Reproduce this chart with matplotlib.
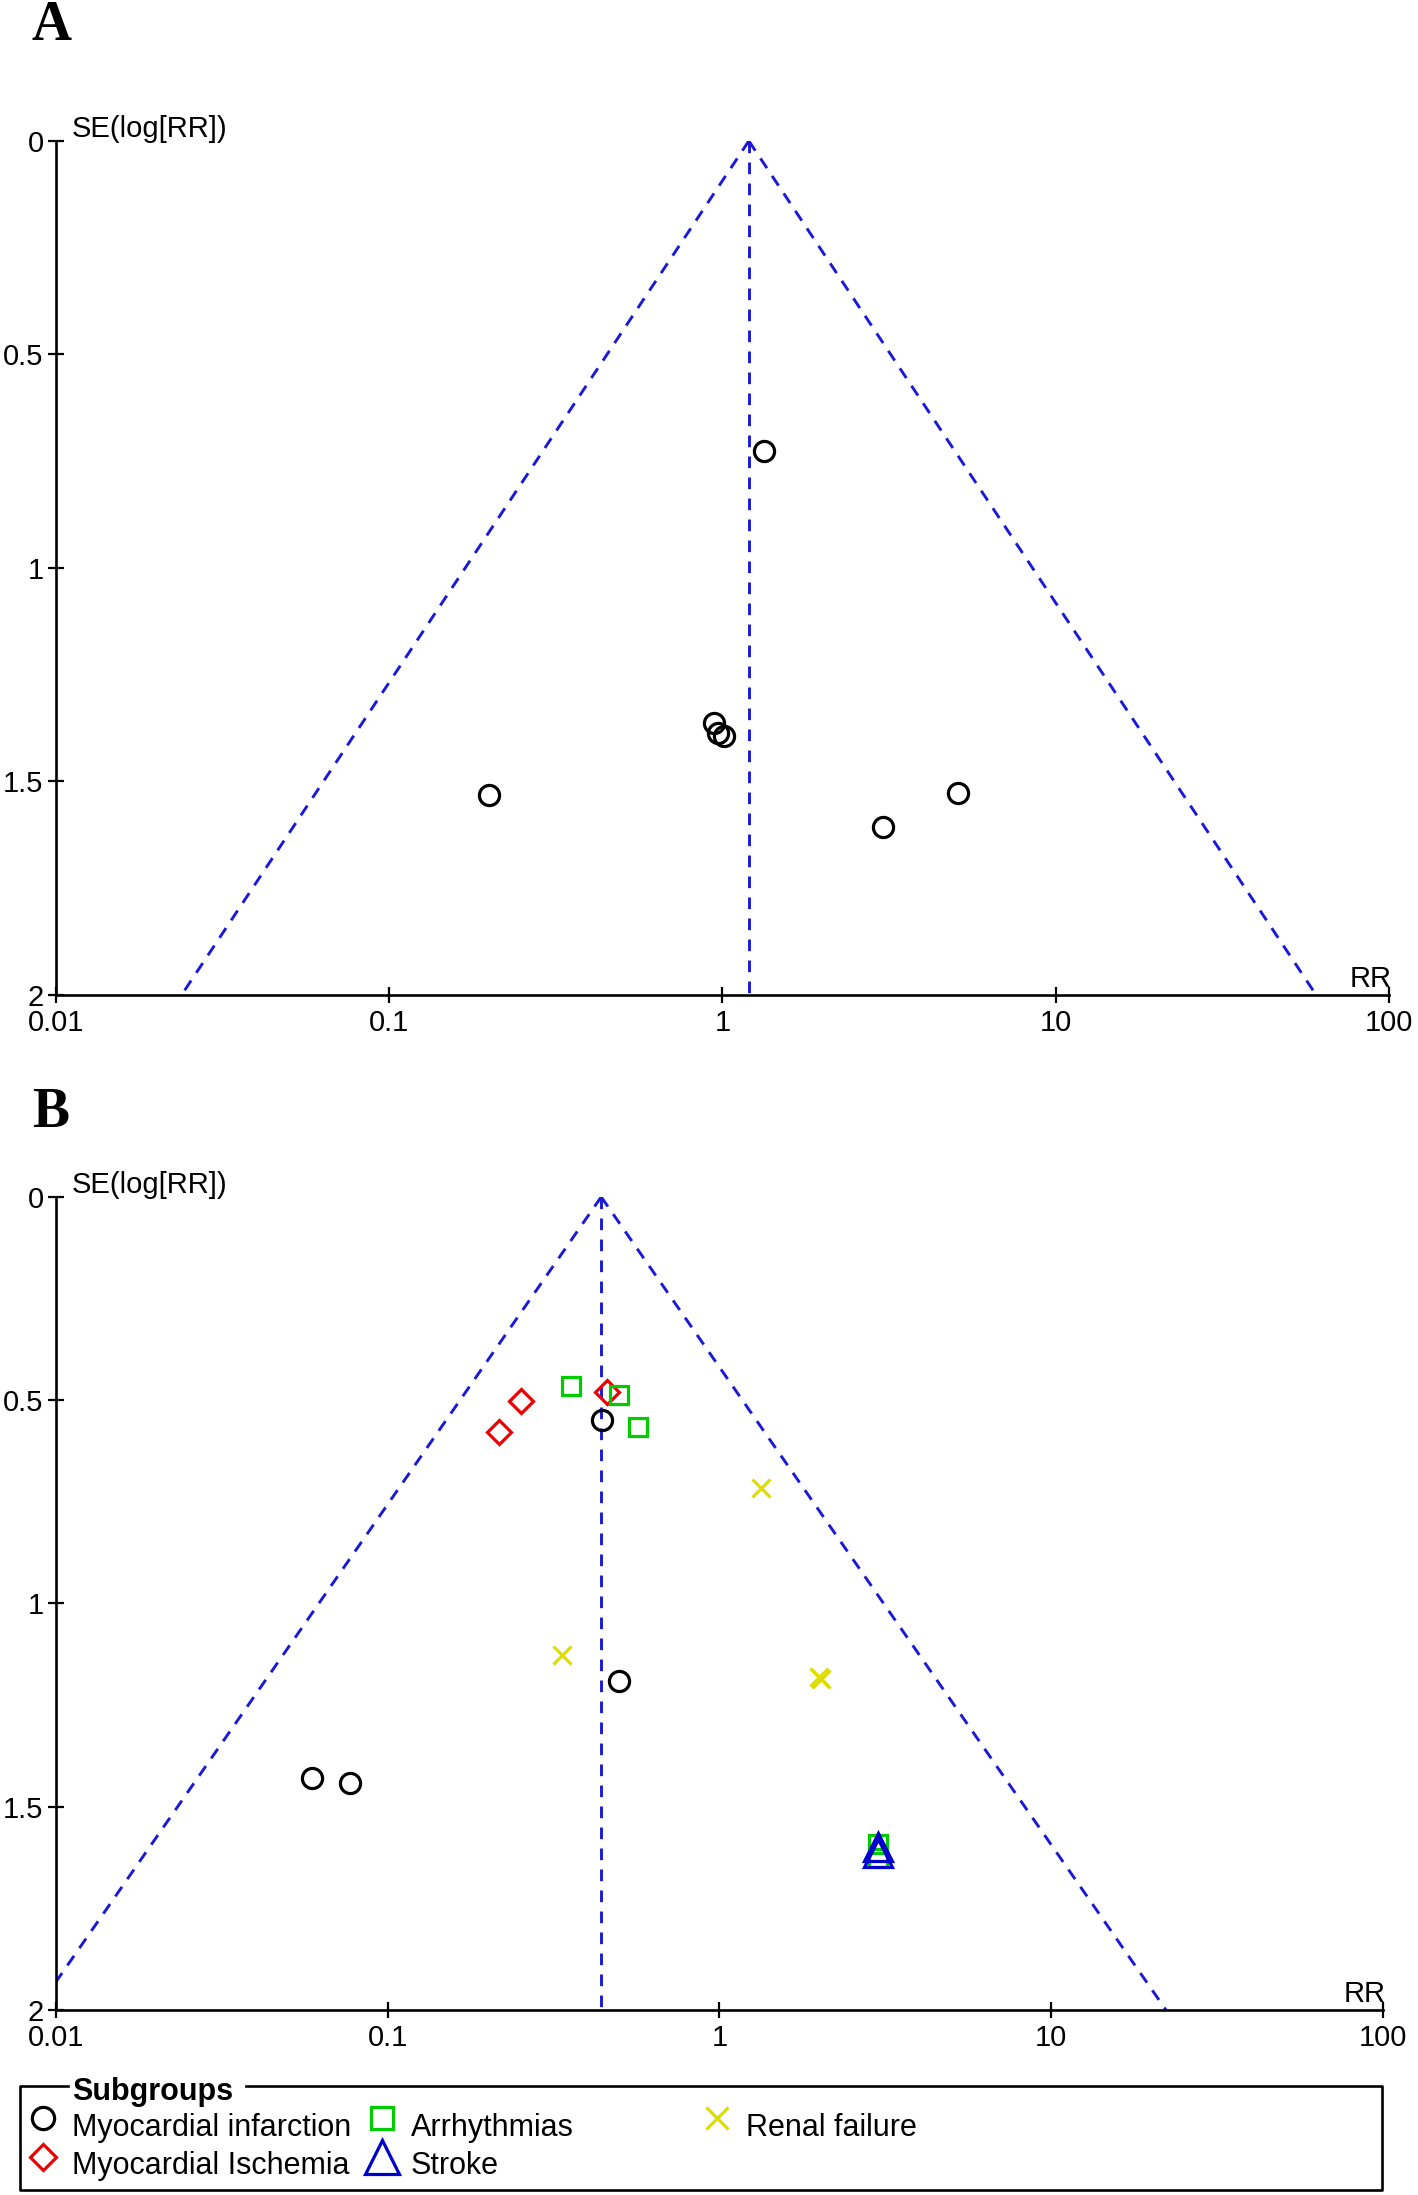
import numpy as np
import matplotlib
matplotlib.use("Agg")
import matplotlib.pyplot as plt

plt.rcParams['font.family'] = ['Liberation Sans', 'DejaVu Sans']

# Panel A: myocardial infarction studies
rr_a = [1.336, 0.943, 0.969, 1.01, 0.199, 3.03, 5.09]
se_a = [0.726, 1.363, 1.386, 1.393, 1.532, 1.607, 1.527]
pooled_a = 1.2

# Panel B: subgroups
mi_rr = [0.443, 0.499, 0.0592, 0.0772]
mi_se = [0.548, 1.192, 1.430, 1.442]
isch_rr = [0.252, 0.217, 0.459]
isch_se = [0.501, 0.578, 0.481]
arr_rr = [0.358, 0.499, 0.569, 3.0, 3.0]
arr_se = [0.465, 0.488, 0.567, 1.591, 1.626]
stroke_rr = [3.0, 3.0]
stroke_se = [1.600, 1.615]
renal_rr = [1.334, 0.334, 2.0, 2.02]
renal_se = [0.715, 1.127, 1.180, 1.186]
pooled_b = 0.44

x_ticks = [0.01, 0.1, 1, 10, 100]
x_labels = ['0.01', '0.1', '1', '10', '100']
y_ticks = [0, 0.5, 1, 1.5, 2]
y_labels = ['0', '0.5', '1', '1.5', '2']

groups = ['Myocardial infarction', 'Myocardial Ischemia', 'Arrhythmias', 'Stroke', 'Renal failure']
markers = ['o', 'D', 's', '^', 'x']
colors = ['black', '#ee0000', '#00cc00', '#0000cc', '#dddd00']
sizes = [14.5, 12.7, 13.2, 20, 13]
legend_sizes = [16, 13.5, 16, 24, 16]

BLUE = '#1a1ad6'
FS = 21
LEG_FS = 22


def funnel(ax, pooled):
    se = np.array([0, 2.0])
    kw = dict(color=BLUE, lw=2.1, dashes=(4, 3.2))
    ax.plot([pooled, pooled], se, **kw)
    ax.plot(pooled * np.exp(-1.96 * se), se, **kw)
    ax.plot(pooled * np.exp(1.96 * se), se, **kw)


def style_axes(ax):
    ax.set_xscale('log')
    ax.set_xlim(0.01, 100)
    ax.set_ylim(2, 0)
    ax.set_xticks(x_ticks)
    ax.set_xticklabels(x_labels)
    ax.minorticks_off()
    ax.set_yticks(y_ticks)
    ax.set_yticklabels(y_labels)
    for s in ['top', 'right']:
        ax.spines[s].set_visible(False)
    for s in ['left', 'bottom']:
        ax.spines[s].set_linewidth(1.9)
    ax.tick_params(axis='both', direction='inout', length=12, width=1.6,
                   labelsize=FS, pad=4)
    ax.tick_params(axis='y', pad=3)
    ax.annotate('SE(log[RR])', xy=(0, 1), xycoords='axes fraction',
                xytext=(11, 3), textcoords='offset points',
                ha='left', va='baseline', fontsize=FS)
    ax.annotate('RR', xy=(1, 0), xycoords='axes fraction',
                xytext=(2, 6), textcoords='offset points',
                ha='right', va='baseline', fontsize=FS)


fig = plt.figure(figsize=(14.18, 21.95), dpi=100)

# ---- panel A ----
ax_a = fig.add_axes([0.0395, 0.5467, 0.940, 0.3891])
funnel(ax_a, pooled_a)
ax_a.plot(rr_a, se_a, linestyle='none', marker='o', ms=sizes[0], mew=2.3,
          mfc='none', mec='black', clip_on=False)
style_axes(ax_a)

# ---- panel B ----
ax_b = fig.add_axes([0.0395, 0.0843, 0.9358, 0.3704])
funnel(ax_b, pooled_b)
series_b = [(mi_rr, mi_se), (isch_rr, isch_se), (arr_rr, arr_se),
            (stroke_rr, stroke_se), (renal_rr, renal_se)]
for (xs, ys), m, c, ms in zip(series_b, markers, colors, sizes):
    ax_b.plot(xs, ys, linestyle='none', marker=m, ms=ms, mew=2.3,
              mfc='none', mec=c, clip_on=False)
style_axes(ax_b)

fig.text(51 / 1418, 0.9818, 'A', family='Liberation Serif', weight='bold',
         fontsize=40, ha='center', va='baseline')
fig.text(51 / 1418, 0.4866, 'B', family='Liberation Serif', weight='bold',
         fontsize=40, ha='center', va='baseline')

# ---- legend box ----
lax = fig.add_axes([20 / 1418, 5 / 2195, 1362 / 1418, 104 / 2195])
lax.set_xlim(0, 1)
lax.set_ylim(0, 1)
lax.axis('off')
box = dict(color='black', lw=1.9, clip_on=False, solid_capstyle='projecting')
lax.plot([0.035, 0, 0, 1, 1, 0.166], [1, 1, 0, 0, 1, 1], **box)
lax.text(0.038, 0.94, 'Subgroups', fontsize=LEG_FS, weight='bold',
         ha='left', va='center')

col_x = [0.017, 0.017, 0.266, 0.266, 0.512]
row_y = [0.69, 0.32, 0.69, 0.32, 0.69]
for g, m, c, ms, cx, ry in zip(groups, markers, colors, legend_sizes, col_x, row_y):
    lax.plot([cx], [ry], linestyle='none', marker=m, ms=ms, mew=2.3,
             mfc='none', mec=c, clip_on=False)
    lax.text(cx + 0.021, ry - 0.09, g, fontsize=LEG_FS, ha='left', va='center')

fig.savefig('out.png', dpi=100)
